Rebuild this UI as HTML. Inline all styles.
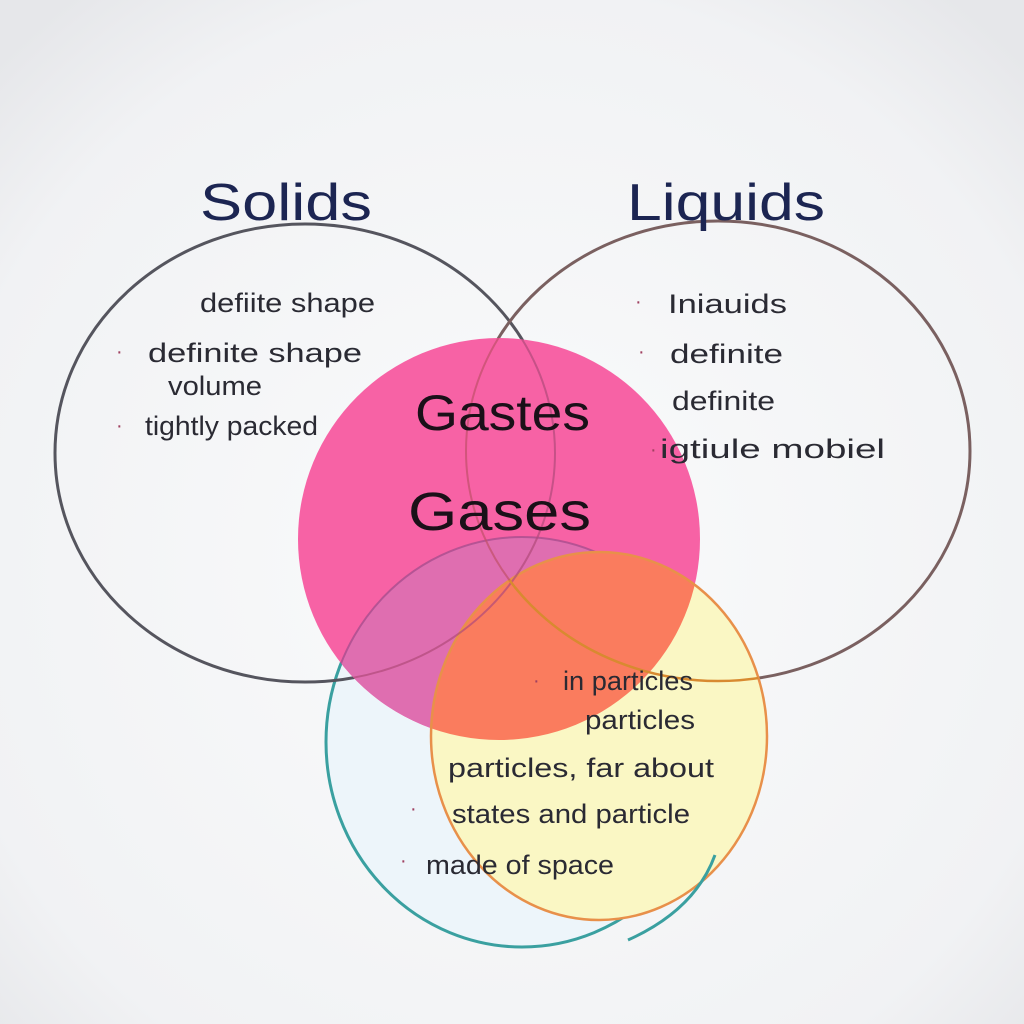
<!DOCTYPE html>
<html><head><style>
html,body{margin:0;padding:0;background:#f3f4f6;}
svg{display:block}
text{font-family:"Liberation Sans",sans-serif;}
</style></head><body>
<svg width="1024" height="1024" viewBox="0 0 1024 1024" xmlns="http://www.w3.org/2000/svg">
<defs>
<radialGradient id="bg" cx="0.5" cy="0.55" r="0.7">
<stop offset="0" stop-color="#fafbfc"/><stop offset="0.8" stop-color="#f1f2f4"/><stop offset="1" stop-color="#e6e7ea"/>
</radialGradient>
<clipPath id="pink"><circle cx="499" cy="539" r="201"/></clipPath>
<clipPath id="yel"><ellipse cx="599" cy="736" rx="168" ry="184"/></clipPath>
</defs>
<rect width="1024" height="1024" fill="url(#bg)"/>
<ellipse cx="522" cy="742" rx="196" ry="205" fill="#edf5fa" stroke="#3aa0a0" stroke-width="3"/>
<ellipse cx="305" cy="453" rx="250" ry="229" fill="none" stroke="#55555e" stroke-width="3"/>
<ellipse cx="718" cy="451" rx="252" ry="230" fill="none" stroke="#7a6060" stroke-width="3"/>
<circle cx="499" cy="539" r="201" fill="#f762a5"/>
<ellipse cx="522" cy="742" rx="196" ry="205" fill="#df6eb0" clip-path="url(#pink)"/>
<ellipse cx="522" cy="742" rx="196" ry="205" fill="none" stroke="#a04a8a" stroke-width="2" clip-path="url(#pink)" opacity="0.7"/>
<ellipse cx="599" cy="736" rx="168" ry="184" fill="#faf7c4"/>
<ellipse cx="599" cy="736" rx="168" ry="184" fill="#fa7c5e" clip-path="url(#pink)"/>
<ellipse cx="599" cy="736" rx="168" ry="184" fill="none" stroke="#e8904a" stroke-width="2.5"/>
<path d="M628 940 Q695 910 715 855" fill="none" stroke="#3aa0a0" stroke-width="3"/>
<ellipse cx="305" cy="453" rx="250" ry="229" fill="none" stroke="#b04a7a" stroke-width="2" clip-path="url(#pink)" opacity="0.7"/>
<ellipse cx="718" cy="451" rx="252" ry="230" fill="none" stroke="#c0506a" stroke-width="2" clip-path="url(#pink)" opacity="0.7"/>
<ellipse cx="718" cy="451" rx="252" ry="230" fill="none" stroke="#d88a30" stroke-width="2.5" clip-path="url(#yel)"/>
<text x="200" y="220" font-size="52" fill="#1c2552" textLength="172" lengthAdjust="spacingAndGlyphs">Solids</text>
<text x="627" y="220" font-size="52" fill="#1c2552" textLength="198" lengthAdjust="spacingAndGlyphs">Liquids</text>
<g font-size="27" fill="#2a2a33">
<text x="200" y="312" textLength="175" lengthAdjust="spacingAndGlyphs">defiite shape</text>
<text x="148" y="362" textLength="214" lengthAdjust="spacingAndGlyphs">definite  shape</text>
<text x="168" y="395" textLength="94" lengthAdjust="spacingAndGlyphs">volume</text>
<text x="145" y="435" textLength="173" lengthAdjust="spacingAndGlyphs">tightly packed</text>
<text x="668" y="313" textLength="119" lengthAdjust="spacingAndGlyphs">Iniauids</text>
<text x="670" y="363" textLength="113" lengthAdjust="spacingAndGlyphs">definite</text>
<text x="672" y="410" textLength="103" lengthAdjust="spacingAndGlyphs">definite</text>
<text x="660" y="458" textLength="225" lengthAdjust="spacingAndGlyphs">igtiule  mobiel</text>
<text x="563" y="690" textLength="130" lengthAdjust="spacingAndGlyphs">in particles</text>
<text x="585" y="729" textLength="110" lengthAdjust="spacingAndGlyphs">particles</text>
<text x="448" y="777" textLength="266" lengthAdjust="spacingAndGlyphs">particles,  far about</text>
<text x="452" y="823" textLength="238" lengthAdjust="spacingAndGlyphs">states and particle</text>
<text x="426" y="874" textLength="188" lengthAdjust="spacingAndGlyphs">made of space</text>
</g>
<g fill="#a04060" font-size="20">
<text x="116" y="358">·</text><text x="116" y="432">·</text>
<text x="635" y="308">·</text><text x="638" y="358">·</text><text x="650" y="456">·</text>
<text x="533" y="687">·</text><text x="410" y="815">·</text><text x="400" y="867">·</text>
</g>
<text x="415" y="430" font-size="50" fill="#1a1018" textLength="175" lengthAdjust="spacingAndGlyphs">Gastes</text>
<text x="408" y="530" font-size="54" fill="#1a1018" textLength="183" lengthAdjust="spacingAndGlyphs">Gases</text>
</svg>
</body></html>
